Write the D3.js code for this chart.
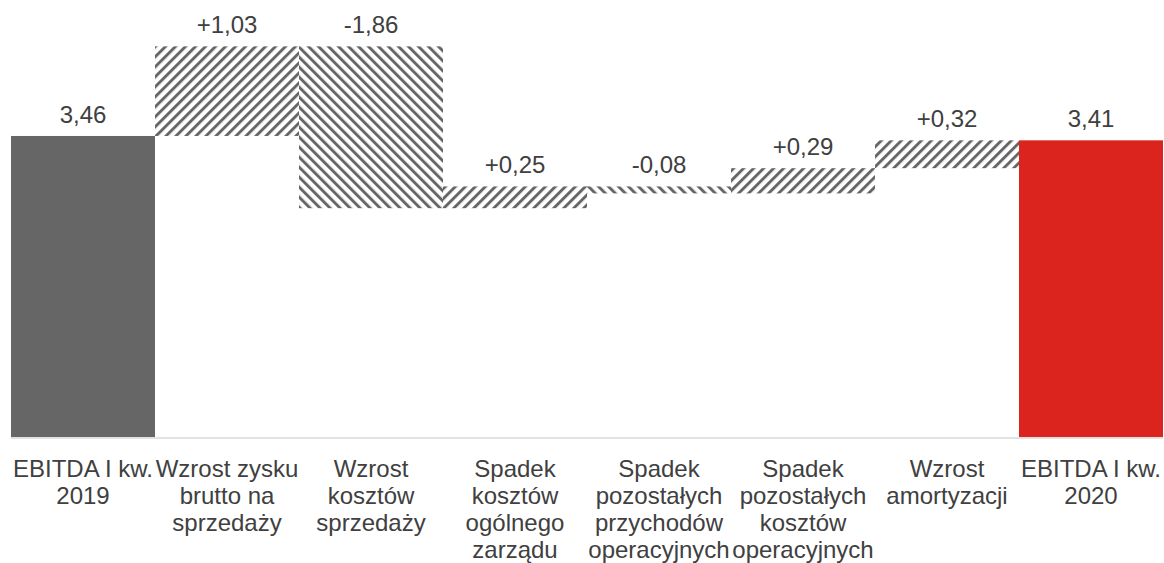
<!DOCTYPE html>
<html>
<head>
<meta charset="utf-8">
<script src="https://cdn.jsdelivr.net/npm/d3@7"></script>
<style>
  html, body { margin: 0; padding: 0; background: #fff; }
  svg { display: block; }
  text { font-family: "Liberation Sans", Arial, sans-serif; fill: #404040; }
</style>
</head>
<body>
<svg id="chart" width="1164" height="563"></svg>
<script>
// Bridge of EBITDA, Q1 2019 -> Q1 2020 (mln zł)
const categories = [
  ["EBITDA I kw.", "2019"],
  ["Wzrost zysku", "brutto na", "sprzedaży"],
  ["Wzrost", "kosztów", "sprzedaży"],
  ["Spadek", "kosztów", "ogólnego", "zarządu"],
  ["Spadek", "pozostałych", "przychodów", "operacyjnych"],
  ["Spadek", "pozostałych", "kosztów", "operacyjnych"],
  ["Wzrost", "amortyzacji"],
  ["EBITDA I kw.", "2020"]
];
const startValue = 3.46;
const changes = [1.03, -1.86, 0.25, -0.08, 0.29, 0.32];
const endValue = 3.41;
const valueLabels = ["3,46", "+1,03", "-1,86", "+0,25", "-0,08", "+0,29", "+0,32", "3,41"];

const svg = d3.select("#chart");

// Build waterfall segments
const segments = [];
segments.push({ i: 0, y0: 0, y1: startValue, kind: "total" });
let running = startValue;
changes.forEach((c, k) => {
  segments.push({ i: k + 1, y0: running, y1: running + c, kind: c >= 0 ? "up" : "down" });
  running += c;
});
segments.push({ i: categories.length - 1, y0: 0, y1: endValue, kind: "final" });

const x = d3.scaleBand().domain(d3.range(categories.length)).range([11, 1163]).padding(0);
const y = d3.scaleLinear().domain([0, 5]).range([437, 2]);

// Hatch patterns
const defs = svg.append("defs");
function hatch(id, angle) {
  const p = defs.append("pattern")
    .attr("id", id)
    .attr("patternUnits", "userSpaceOnUse")
    .attr("width", 7.07)
    .attr("height", 7.07)
    .attr("patternTransform", `rotate(${angle})`);
  p.append("rect").attr("width", 7.07).attr("height", 7.07).attr("fill", "#fff");
  p.append("rect").attr("x", 0).attr("width", 2.9).attr("height", 7.07).attr("fill", "#666666");
}
hatch("hatchUp", 45);
hatch("hatchDown", -45);

const fills = { total: "#666666", final: "#dc241f", up: "url(#hatchUp)", down: "url(#hatchDown)" };

svg.append("g").selectAll("rect")
  .data(segments)
  .join("rect")
  .attr("x", d => x(d.i))
  .attr("width", x.bandwidth())
  .attr("y", d => y(Math.max(d.y0, d.y1)))
  .attr("height", d => Math.abs(y(d.y0) - y(d.y1)))
  .attr("fill", d => fills[d.kind]);

// Baseline
svg.append("line")
  .attr("x1", 11).attr("x2", 1163)
  .attr("y1", y(0) + 1).attr("y2", y(0) + 1)
  .attr("stroke", "#d9d9d9").attr("stroke-width", 1.5);

// Value labels
svg.append("g").selectAll("text")
  .data(segments)
  .join("text")
  .attr("x", d => x(d.i) + x.bandwidth() / 2)
  .attr("y", d => y(Math.max(d.y0, d.y1)) - 13)
  .attr("text-anchor", "middle")
  .attr("font-size", 24)
  .text((d, k) => valueLabels[k]);

// Category labels
const cat = svg.append("g").selectAll("text")
  .data(categories)
  .join("text")
  .attr("x", (d, i) => x(i) + x.bandwidth() / 2)
  .attr("y", 477)
  .attr("text-anchor", "middle")
  .attr("font-size", 24);
cat.selectAll("tspan")
  .data(d => d)
  .join("tspan")
  .attr("x", function () { return d3.select(this.parentNode).attr("x"); })
  .attr("dy", (d, j) => j === 0 ? 0 : 27)
  .text(d => d);
</script>
</body>
</html>
